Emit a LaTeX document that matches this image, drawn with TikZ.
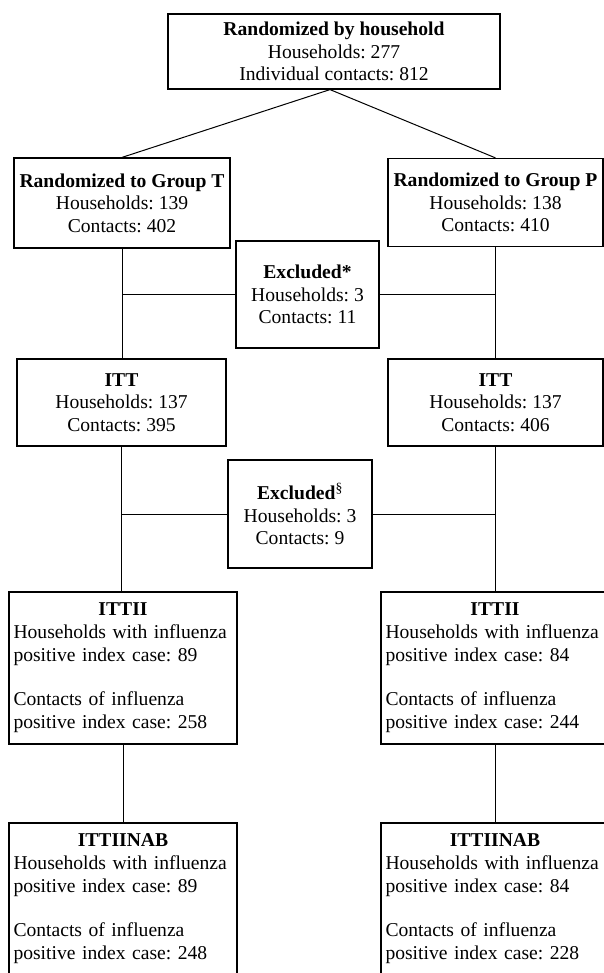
\documentclass[tikz,border=0pt]{standalone}
\usepackage{fontspec}
\setmainfont{Liberation Serif}
\frenchspacing
\begin{document}
\begin{tikzpicture}[x=1pt,y=-1pt,
  box/.style={draw, line width=1.2pt, inner sep=0pt, align=center, font=\fontsize{19.6}{22.5}\selectfont},
  wbox/.style={draw, line width=1.2pt, inner xsep=4.5pt, inner ysep=0pt, align=left, text width=219pt, minimum height=152pt, font=\fontsize{19.6}{23}\selectfont},
  link/.style={line width=1pt}]
\useasboundingbox (0,0) rectangle (604,973);
\fill[white] (0,0) rectangle (604,973);
\begin{scope}
\clip (0,0) rectangle (604,973);
\node[box, minimum width=332pt, minimum height=75pt] (top) at (334,51.5)
  {\textbf{Randomized by household}\\Households: 277\\Individual contacts: 812};
\node[box, minimum width=216pt, minimum height=90pt] (gT) at (122,203)
  {\textbf{Randomized to Group T}\\Households: 139\\Contacts: 402};
\node[box, minimum width=215pt, minimum height=88pt] (gP) at (495.5,202.5)
  {\textbf{Randomized to Group P}\\Households: 138\\Contacts: 410};
\node[box, minimum width=143pt, minimum height=107pt] (ex1) at (307.5,294.5)
  {\textbf{Excluded*}\\Households: 3\\Contacts: 11};
\node[box, minimum width=209pt, minimum height=87pt] (ittT) at (121.5,402.5)
  {\textbf{ITT}\\Households: 137\\Contacts: 395};
\node[box, minimum width=215pt, minimum height=87pt] (ittP) at (495.5,402.5)
  {\textbf{ITT}\\Households: 137\\Contacts: 406};
\node[box, minimum width=144pt, minimum height=108pt] (ex2) at (300,514)
  {\textbf{Excluded}\textsuperscript{\S}\\Households: 3\\Contacts: 9};
\node[wbox] (iiT) at (123,668)
  {\makebox[219pt]{\textbf{ITTII}}\\Households with influenza\\positive index case: 89\\[21pt]Contacts of influenza\\positive index case: 258};
\node[wbox] (iiP) at (495,668)
  {\makebox[219pt]{\textbf{ITTII}}\\Households with influenza\\positive index case: 84\\[21pt]Contacts of influenza\\positive index case: 244};
\node[wbox] (nabT) at (123,899)
  {\makebox[219pt]{\textbf{ITTIINAB}}\\Households with influenza\\positive index case: 89\\[21pt]Contacts of influenza\\positive index case: 248};
\node[wbox] (nabP) at (495,899)
  {\makebox[219pt]{\textbf{ITTIINAB}}\\Households with influenza\\positive index case: 84\\[21pt]Contacts of influenza\\positive index case: 228};
\draw[link] ([xshift=-4pt]top.south) -- (gT.north);
\draw[link] ([xshift=-4pt]top.south) -- (gP.north);
\draw[link] (gT.south) -- (gT.south |- ittT.north);
\draw[link] (gP.south) -- (gP.south |- ittP.north);
\draw[link] (ex1.west) -- (ex1.west -| gT.south);
\draw[link] (ex1.east) -- (ex1.east -| gP.south);
\draw[link] (ittT.south) -- (ittT.south |- iiT.north);
\draw[link] (ittP.south) -- (ittP.south |- iiP.north);
\draw[link] (ex2.west) -- (ex2.west -| ittT.south);
\draw[link] (ex2.east) -- (ex2.east -| ittP.south);
\draw[link] (iiT.south) -- (nabT.north);
\draw[link] (iiP.south) -- (nabP.north);
\end{scope}
\end{tikzpicture}
\end{document}
